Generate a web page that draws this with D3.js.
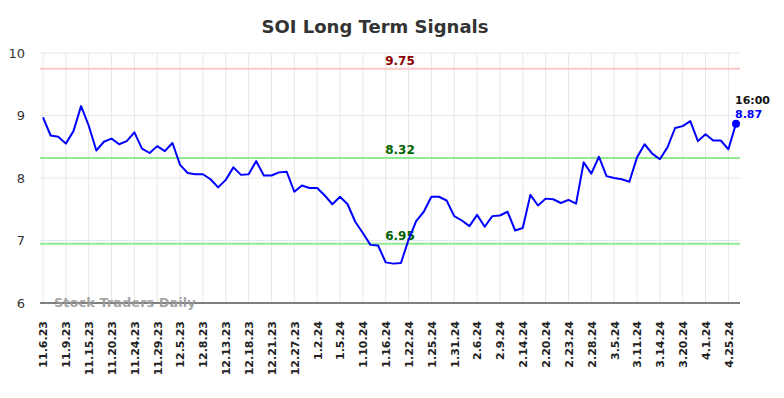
<!DOCTYPE html>
<html>
<head>
<meta charset="utf-8">
<script src="https://cdn.jsdelivr.net/npm/d3@7"></script>
<style>
  body { margin: 0; background: #fff; }
  text { font-family: "DejaVu Sans", sans-serif; }
  .grid line { stroke: #e8e8e8; stroke-width: 1; }
</style>
</head>
<body>
<div id="ChartContainer"></div>
<script>
const tickLabels = ["11.6.23", "11.9.23", "11.15.23", "11.20.23", "11.24.23", "11.29.23",
  "12.5.23", "12.8.23", "12.13.23", "12.18.23", "12.21.23", "12.27.23",
  "1.2.24", "1.5.24", "1.10.24", "1.16.24", "1.22.24", "1.25.24", "1.31.24",
  "2.6.24", "2.9.24", "2.14.24", "2.20.24", "2.23.24", "2.28.24",
  "3.5.24", "3.11.24", "3.14.24", "3.20.24", "4.1.24", "4.25.24"]

// one value per session, a labelled tick every 3rd session
const signal = [
  8.97, 8.68, 8.66, 8.55, 8.75, 9.15, 8.84, 8.44, 8.58, 8.63,
  8.54, 8.59, 8.73, 8.47, 8.40, 8.51, 8.43, 8.56, 8.21, 8.08,
  8.06, 8.06, 7.98, 7.85, 7.97, 8.17, 8.05, 8.06, 8.27, 8.04,
  8.04, 8.09, 8.10, 7.78, 7.88, 7.84, 7.84, 7.72, 7.58, 7.70,
  7.58, 7.30, 7.12, 6.93, 6.92, 6.65, 6.63, 6.64, 7.01, 7.31,
  7.46, 7.70, 7.70, 7.64, 7.39, 7.32, 7.23, 7.41, 7.22, 7.39,
  7.40, 7.46, 7.16, 7.20, 7.73, 7.56, 7.67, 7.66, 7.60, 7.65,
  7.59, 8.25, 8.07, 8.34, 8.03, 8.00, 7.98, 7.94, 8.33, 8.54,
  8.39, 8.30, 8.49, 8.80, 8.83, 8.91, 8.59, 8.70, 8.60, 8.60,
  8.46, 8.87,
]
const tickEvery = 3

const yTicks = [6, 7, 8, 9, 10]

const levels = [
  {value: 9.75, kind: "resistance"},
  {value: 8.32, kind: "support"},
  {value: 6.95, kind: "support"},
]
const lastTime = "16:00"

var dims = {
  width: 784,
  height: 398,
  plot: {left: 40, right: 740, top: 53, bottom: 303},
  firstX: 43,
  lastX: 736,
}

var svg = d3.select("#ChartContainer").append("svg")
  .attr("width", dims.width)
  .attr("height", dims.height)

var xScale = d3.scalePoint()
  .domain(d3.range(signal.length))
  .range([dims.firstX, dims.lastX])

var yScale = d3.scaleLinear()
  .domain([6, 10])
  .range([dims.plot.bottom, dims.plot.top])

var tickIdx = d3.range(0, signal.length, tickEvery)

// grid
var gGrid = svg.append("g").attr("class", "grid")
gGrid.selectAll(".hgrid")
  .data(yTicks.filter(d => d > 6))
  .enter().append("line")
  .attr("x1", dims.plot.left)
  .attr("x2", dims.plot.right)
  .attr("y1", d => yScale(d))
  .attr("y2", d => yScale(d))
gGrid.selectAll(".vgrid")
  .data(tickIdx)
  .enter().append("line")
  .attr("x1", d => xScale(d))
  .attr("x2", d => xScale(d))
  .attr("y1", dims.plot.top)
  .attr("y2", dims.plot.bottom)

// title
svg.append("text")
  .attr("x", 375)
  .attr("y", 33)
  .attr("text-anchor", "middle")
  .attr("font-size", "18px")
  .attr("font-weight", "bold")
  .attr("fill", "#333")
  .text("SOI Long Term Signals")

// y axis labels
var yAxis = svg.append("g")
  .attr("transform", `translate(${dims.plot.left},0)`)
  .call(d3.axisLeft(yScale).tickValues(yTicks).tickSize(0).tickPadding(15).tickFormat(d3.format("d")))
yAxis.select(".domain").remove()
yAxis.selectAll("text")
  .attr("font-size", "13px")
  .attr("fill", "#333")
  .style("font-family", "'DejaVu Sans', sans-serif")

// x axis
var xAxis = svg.append("g")
  .attr("transform", `translate(0,${dims.plot.bottom})`)
  .call(d3.axisBottom(xScale)
    .tickValues(tickIdx)
    .tickSize(0)
    .tickFormat(i => tickLabels[i / tickEvery]))
xAxis.select(".domain")
  .attr("d", `M${dims.plot.left},0H${dims.plot.right}`)
  .attr("stroke", "#555")
  .attr("stroke-width", 1.5)
xAxis.selectAll("text")
  .attr("transform", "rotate(-90)")
  .attr("text-anchor", "end")
  .attr("x", -18)
  .attr("y", 0)
  .attr("dy", "0.35em")
  .attr("font-size", "11px")
  .attr("font-weight", "bold")
  .attr("fill", "#222")
  .style("font-family", "'DejaVu Sans', sans-serif")

// watermark
svg.append("text")
  .attr("x", 54)
  .attr("y", 307)
  .attr("font-size", "13px")
  .attr("font-weight", "bold")
  .attr("fill", "#999")
  .attr("fill-opacity", 0.9)
  .text("Stock Traders Daily")

// signal levels
var gLevels = svg.append("g")
gLevels.selectAll("line")
  .data(levels)
  .enter().append("line")
  .attr("x1", dims.plot.left)
  .attr("x2", dims.plot.right)
  .attr("y1", d => yScale(d.value))
  .attr("y2", d => yScale(d.value))
  .attr("stroke", d => d.kind === "resistance" ? "#ffc8c8" : "#90e890")
  .attr("stroke-width", 2)

// price line
svg.append("path")
  .datum(signal)
  .attr("fill", "none")
  .attr("stroke", "#0000ff")
  .attr("stroke-width", 2)
  .attr("stroke-linejoin", "round")
  .attr("d", d3.line().x((d, i) => xScale(i)).y(d => yScale(d)))

gLevels.selectAll("text")
  .data(levels)
  .enter().append("text")
  .attr("x", 400)
  .attr("y", d => yScale(d.value) - 4)
  .attr("text-anchor", "middle")
  .attr("font-size", "12px")
  .attr("font-weight", "bold")
  .attr("fill", d => d.kind === "resistance" ? "#8b0000" : "#006400")
  .text(d => d.value.toFixed(2))

// last point
var lastI = signal.length - 1
svg.append("circle")
  .attr("cx", xScale(lastI))
  .attr("cy", yScale(signal[lastI]))
  .attr("r", 4)
  .attr("fill", "#0000ff")
svg.append("text")
  .attr("x", xScale(lastI) - 1)
  .attr("y", yScale(signal[lastI]) - 20)
  .attr("font-size", "11px")
  .attr("font-weight", "bold")
  .attr("fill", "#111")
  .text(lastTime)
svg.append("text")
  .attr("x", xScale(lastI) - 1)
  .attr("y", yScale(signal[lastI]) - 6)
  .attr("font-size", "11px")
  .attr("font-weight", "bold")
  .attr("fill", "#0000ff")
  .text(signal[lastI].toFixed(2))
</script>
</body>
</html>
